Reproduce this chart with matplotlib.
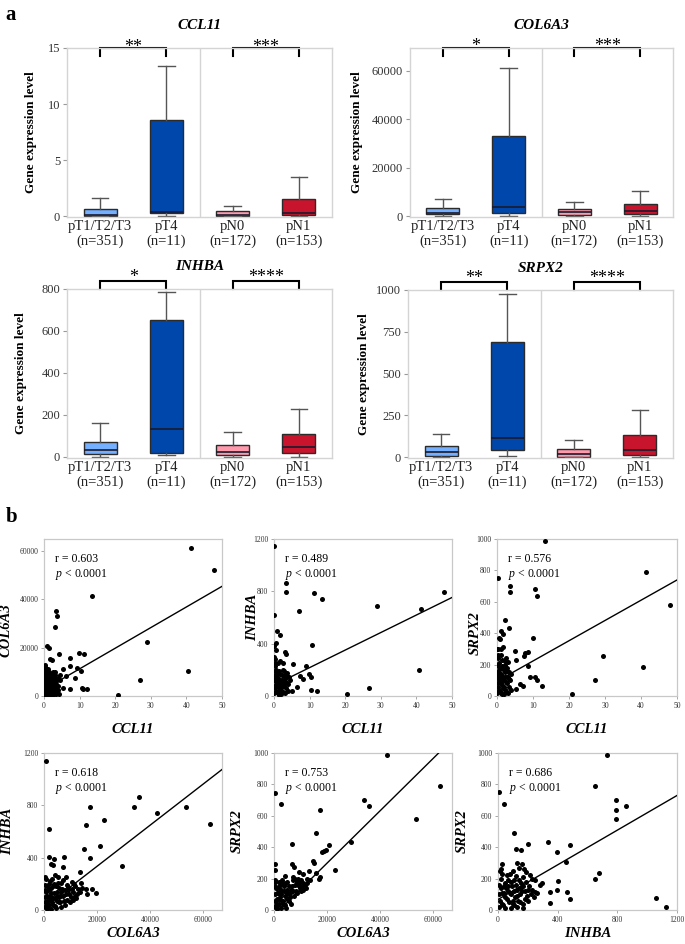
import numpy as np
import matplotlib
matplotlib.use('Agg')
import matplotlib.pyplot as plt
import matplotlib.transforms as mtransforms

plt.rcParams['font.family'] = 'Liberation Serif'
plt.rcParams['mathtext.fontset'] = 'custom'
plt.rcParams['mathtext.rm'] = 'Liberation Serif'
plt.rcParams['mathtext.it'] = 'Liberation Serif:italic'

# ---- panel a: box plots (whisker low, Q1, median, Q3, whisker high) ----
groups = ['pT1/T2/T3', 'pT4', 'pN0', 'pN1']
group_n = ['(n=351)', '(n=11)', '(n=172)', '(n=153)']
box_colors = ['#74b0ff', '#0047ab', '#ff9aad', '#c8152d']

ccl11_box = [[0.0, 0.02, 0.1, 0.65, 1.6], [0.05, 0.3, 0.38, 8.6, 13.4],
             [0.0, 0.02, 0.15, 0.45, 0.9], [0.0, 0.1, 0.35, 1.55, 3.55]]
col6a3_box = [[0, 800, 1500, 3300, 7000], [0, 1300, 3700, 33200, 61000],
              [0, 700, 1600, 2800, 5800], [0, 1000, 2000, 5000, 10500]]
inhba_box = [[0, 15, 32, 72, 160], [10, 17, 132, 652, 785],
             [2, 8, 22, 57, 120], [0, 20, 47, 110, 228]]
srpx2_box = [[0, 5, 28, 65, 140], [5, 40, 112, 690, 978],
             [0, 3, 18, 48, 100], [0, 15, 40, 130, 285]]
stars_T = ['**', '*', '*', '**']
stars_N = ['***', '***', '****', '****']

# ---- panel b: scatter points (x, y) ----
pts_ccl11_col6a3 = [
    (41.3, 61400), (47.7, 52200), (13.5, 41600), (3.5, 35300), (3.7, 33300), (3.0, 28400),
    (29.0, 22300), (0.9, 20800), (1.4, 19700), (9.8, 17800), (11.3, 17300), (4.1, 17200),
    (1.8, 15200), (2.2, 15000), (7.2, 15600), (7.2, 12400), (0.3, 13000), (9.3, 11400),
    (10.3, 10500), (5.4, 11300), (40.4, 10500), (27.0, 6800), (6.3, 8200), (8.6, 7500),
    (3.8, 7600), (5.2, 3200), (7.2, 3000), (10.6, 3500), (10.9, 2800), (12.1, 2700),
    (20.7, 500), (4.5, 6500), (2.6, 10000), (3.2, 9800), (2.0, 9000), (1.0, 9500),
    (0.1, 500), (0.2, 1500), (0.3, 3000), (0.5, 4500), (0.2, 6000), (0.1, 8000),
    (0.6, 1000), (0.8, 2500), (1.0, 4000), (1.2, 6000), (1.5, 2000), (1.8, 3500),
    (2.0, 5500), (2.3, 1000), (2.6, 3000), (2.9, 4500), (3.2, 2000), (3.5, 5000),
    (0.4, 200), (1.3, 300), (0.9, 7500), (1.6, 8000), (2.5, 7000), (0.05, 10500),
    (0.15, 12000), (3.0, 8500), (4.0, 4000), (0.7, 11000), (1.1, 1200), (2.1, 2800),
    (0.3, 2000), (2.8, 1500), (1.7, 6500), (0.6, 7000), (3.3, 800),
    (0.1, 2500), (0.4, 3800), (0.7, 5200), (0.2, 7200), (0.5, 8800), (0.9, 600),
    (1.1, 2800), (1.4, 4700), (1.6, 3000), (1.9, 1200), (2.2, 4000), (2.4, 6200),
    (2.7, 5200), (3.0, 3600), (3.4, 2900), (3.7, 1400), (1.3, 9800), (0.3, 9500),
    (2.9, 7800), (0.8, 5800), (1.9, 7200), (3.6, 6800), (0.5, 300), (1.7, 200),
    (2.6, 500), (3.9, 2300), (4.3, 1000), (0.2, 11500), (1.2, 11000), (4.6, 8500)]
pts_ccl11_inhba = [
    (0.0, 1150), (0.0, 620), (3.5, 860), (3.5, 795), (11.1, 790), (13.4, 740), (7.0, 650),
    (29.0, 690), (41.3, 665), (47.7, 795), (10.7, 390), (0.8, 495), (1.8, 470), (0.5, 405),
    (0.7, 355), (3.0, 335), (3.5, 320), (5.2, 244), (8.9, 231), (1.6, 264), (2.5, 251),
    (7.2, 156), (8.2, 131), (9.9, 167), (10.5, 149), (40.6, 195), (6.6, 67), (5.1, 38),
    (10.5, 46), (12.1, 41), (20.6, 13), (26.8, 59), (4.2, 149), (3.7, 179), (0.2, 280),
    (0.3, 250), (0.1, 20), (0.3, 60), (0.5, 110), (0.2, 160), (0.8, 30), (1.0, 80),
    (1.2, 140), (1.5, 190), (1.7, 50), (2.0, 100), (2.2, 160), (2.5, 30), (2.8, 80),
    (3.0, 130), (3.3, 60), (3.6, 100), (0.6, 200), (1.3, 10), (2.4, 200), (0.1, 120),
    (0.4, 230), (1.9, 15), (3.1, 20), (4.0, 90), (1.1, 250), (0.9, 170), (2.7, 150),
    (0.2, 80), (0.4, 140), (0.6, 40), (0.9, 110), (1.1, 180), (1.4, 70), (1.6, 120),
    (1.8, 170), (2.1, 40), (2.3, 120), (2.6, 90), (2.9, 190), (3.2, 110), (3.4, 160),
    (3.8, 40), (0.3, 190), (1.0, 20), (2.0, 60), (0.7, 140), (1.5, 100), (4.4, 120),
    (0.05, 300), (0.1, 240), (0.05, 380)]
pts_ccl11_srpx2 = [
    (13.3, 985), (0.3, 750), (3.5, 700), (3.5, 662), (10.5, 680), (11.2, 637), (41.5, 790),
    (48.0, 577), (2.1, 487), (1.1, 412), (1.7, 397), (3.3, 434), (0.5, 370), (0.8, 360),
    (10.0, 370), (4.9, 284), (29.4, 252), (7.9, 273), (7.5, 256), (8.7, 278), (5.4, 231),
    (8.7, 192), (9.2, 124), (10.5, 124), (11.0, 103), (6.5, 75), (7.3, 64), (12.4, 66),
    (5.4, 43), (27.1, 103), (40.6, 182), (20.8, 11), (1.2, 300), (0.3, 300), (1.8, 310),
    (0.2, 260), (2.6, 240), (3.0, 215), (2.3, 200), (0.1, 20), (0.3, 60), (0.5, 110),
    (0.2, 160), (0.8, 30), (1.0, 80), (1.2, 140), (1.5, 190), (1.7, 50), (2.0, 100),
    (2.2, 150), (2.5, 30), (2.8, 80), (3.0, 120), (3.3, 60), (3.6, 100), (0.6, 210),
    (1.3, 10), (0.1, 120), (0.4, 240), (1.9, 15), (3.1, 20), (4.0, 140), (0.9, 170),
    (2.7, 160), (1.4, 230),
    (0.2, 80), (0.4, 140), (0.6, 40), (0.9, 110), (1.1, 180), (1.4, 70), (1.6, 120),
    (1.8, 170), (2.1, 40), (2.3, 120), (2.6, 90), (2.9, 180), (3.2, 110), (3.4, 150),
    (3.8, 40), (0.3, 190), (1.0, 20), (2.0, 60), (0.7, 140), (1.5, 100), (0.1, 300),
    (0.05, 200), (2.2, 220), (1.0, 260)]
pts_col6a3_inhba = [
    (630, 1136), (1900, 618), (1900, 408), (2500, 352), (3200, 345), (3650, 388),
    (7560, 408), (7200, 327), (17500, 791), (15750, 651), (22700, 689), (15100, 465),
    (21000, 490), (17500, 401), (29200, 337), (34000, 791), (35900, 860), (42700, 745),
    (53500, 791), (62600, 659), (13500, 294), (15750, 161), (18100, 158), (19400, 128),
    (16000, 120), (12000, 89), (14100, 209), (10500, 217), (9100, 179), (4000, 268),
    (5300, 255), (6550, 204), (8450, 255), (300, 20), (800, 60), (1200, 110), (500, 150),
    (1500, 30), (2200, 80), (2800, 130), (3200, 180), (3500, 40), (4200, 90), (4800, 140),
    (5500, 60), (6000, 110), (6800, 160), (7500, 70), (8200, 120), (9000, 150),
    (10000, 100), (11000, 140), (400, 190), (1800, 200), (2500, 10), (4500, 15),
    (6500, 20), (200, 100), (900, 240), (1000, 5), (3000, 240), (5200, 210), (7000, 230),
    (8000, 40), (11500, 180), (12500, 120), (600, 140), (2000, 160),
    (700, 30), (1300, 70), (1900, 40), (2400, 110), (2900, 60), (3700, 130), (4100, 30),
    (4900, 70), (5800, 100), (6300, 140), (7100, 110), (7800, 150), (8600, 80),
    (9400, 120), (10500, 160), (1600, 150), (2100, 220), (3600, 200), (4400, 180),
    (5700, 170), (6200, 60), (8800, 190), (9800, 60), (10800, 80), (11800, 110),
    (300, 250), (1100, 180), (2600, 170), (400, 60), (1800, 100), (3300, 90), (5000, 110),
    (12800, 160), (13500, 140), (14200, 170), (11200, 200)]
pts_col6a3_srpx2 = [
    (42500, 989), (250, 745), (2800, 677), (62600, 787), (33900, 702), (35900, 660),
    (53400, 579), (17500, 638), (15750, 489), (6900, 419), (20800, 415), (17900, 372),
    (18700, 375), (19500, 383), (28800, 436), (250, 291), (250, 255), (14500, 315),
    (15000, 302), (6800, 294), (7400, 277), (22900, 255), (15700, 234), (17300, 213),
    (16900, 198), (9500, 240), (11000, 230), (12500, 200), (10000, 190), (4000, 215),
    (3000, 190), (5000, 180), (8000, 200), (13000, 250), (300, 20), (800, 60), (1200, 110),
    (500, 150), (1500, 30), (2200, 80), (2800, 130), (3200, 170), (3500, 40), (4200, 90),
    (4800, 130), (5500, 60), (6000, 110), (6800, 150), (7500, 90), (8200, 120),
    (9000, 160), (10000, 120), (11000, 130), (400, 190), (1800, 180), (2500, 10),
    (4500, 15), (6500, 40), (200, 100), (1000, 5), (12000, 140), (600, 140), (2000, 140),
    (7000, 190),
    (700, 30), (1300, 70), (1900, 40), (2400, 110), (2900, 60), (3700, 120), (4100, 30),
    (4900, 70), (5800, 100), (6300, 130), (7100, 120), (7800, 160), (8600, 110),
    (9400, 170), (10500, 150), (1600, 110), (2100, 160), (3600, 150), (4400, 170),
    (5700, 150), (6200, 80), (8800, 180), (9800, 140), (10800, 170), (11800, 160),
    (300, 180), (1100, 140), (2600, 100), (400, 60), (1800, 70), (3300, 60), (5000, 110),
    (12500, 170), (13500, 190), (9000, 200), (7200, 210)]
pts_inhba_srpx2 = [
    (734, 989), (9, 749), (38, 677), (652, 787), (788, 702), (788, 638), (790, 581),
    (855, 664), (106, 489), (201, 419), (124, 387), (151, 379), (332, 436), (483, 415),
    (395, 372), (456, 308), (648, 196), (677, 234), (27, 294), (129, 302), (1061, 79),
    (1126, 17), (404, 187), (395, 128), (463, 117), (483, 68), (350, 117), (348, 47),
    (246, 117), (282, 160), (298, 170), (219, 101), (241, 85), (160, 290), (175, 260),
    (140, 270), (190, 240), (215, 225), (230, 200), (120, 215), (165, 210), (5, 20),
    (15, 60), (25, 110), (10, 160), (35, 30), (45, 80), (55, 140), (65, 190), (75, 50),
    (85, 100), (95, 150), (105, 30), (115, 80), (125, 130), (135, 60), (145, 100),
    (155, 170), (165, 40), (180, 120), (195, 90), (20, 200), (50, 10), (90, 15), (130, 20),
    (170, 10), (60, 220), (110, 190), (40, 150), (70, 120), (100, 60), (150, 140), (200, 60),
    (8, 100), (18, 140), (28, 40), (38, 110), (48, 170), (58, 70), (68, 150), (78, 110),
    (88, 180), (98, 40), (108, 120), (118, 160), (128, 90), (138, 190), (148, 50),
    (158, 120), (168, 150), (178, 70), (188, 180), (198, 130), (30, 230), (80, 230),
    (12, 250), (22, 260), (100, 250), (210, 150), (230, 130), (260, 110), (250, 190)]

# regression lines: (slope, intercept)
fit_lines = [(854, 2700), (13.4, 83), (12.9, 94), (0.01573, 20), (0.0167, -35), (0.552, 67)]
r_values = ['0.603', '0.489', '0.576', '0.618', '0.753', '0.686']

fig = plt.figure(figsize=(6.85, 9.44), dpi=100)
W, H = 685, 944


def ax_px(left, top, right, bottom):
    return fig.add_axes([left / W, 1 - bottom / H, (right - left) / W, (bottom - top) / H])


def box_panel(ax, gene, data, ylim, yticks, sT, sN, br_top, br_bot, star_y, ylab_x):
    stats = [dict(whislo=d[0], q1=d[1], med=d[2], q3=d[3], whishi=d[4]) for d in data]
    res = ax.bxp(stats, positions=[1, 2, 3, 4], widths=0.5, patch_artist=True,
                 showfliers=False,
                 boxprops=dict(edgecolor='#2b2b2b', linewidth=1.0),
                 whiskerprops=dict(color='#555555', linewidth=1.0),
                 capprops=dict(color='#555555', linewidth=1.0),
                 medianprops=dict(color='#1a1a2e', linewidth=1.2))
    for patch, c in zip(res['boxes'], box_colors):
        patch.set_facecolor(c)
    ax.axvline(2.5, color='#d4d4d4', lw=1.0, zorder=0)
    ax.set_xlim(0.5, 4.5)
    ax.set_ylim(*ylim)
    ax.set_yticks(yticks)
    ax.set_xticks([1, 2, 3, 4])
    ax.set_xticklabels([g + '\n' + n for g, n in zip(groups, group_n)], fontsize=10.5)
    ax.tick_params(axis='x', length=0, pad=2, colors='#222222')
    ax.tick_params(axis='y', length=3, width=0.8, color='#999999', labelsize=9,
                   labelcolor='#333333', pad=2)
    for sp in ax.spines.values():
        sp.set_color('#d4d4d4')
        sp.set_linewidth(1.0)
    ax.set_ylabel('Gene expression level', fontsize=9.5, fontweight='bold')
    ax.yaxis.set_label_coords(ylab_x, 0.5)
    ax.text(0.5, 1.11, gene, transform=ax.transAxes, ha='center', va='baseline',
            fontsize=11, fontweight='bold', fontstyle='italic')
    tr = mtransforms.blended_transform_factory(ax.transData, ax.transAxes)
    for (a, b), s in (((1, 2), sT), ((3, 4), sN)):
        ax.plot([a, a, b, b], [br_bot, br_top, br_top, br_bot], color='black', lw=1.5,
                transform=tr, clip_on=False, solid_joinstyle='miter')
        ax.text((a + b) / 2, star_y, s, transform=tr, ha='center', va='baseline',
                fontsize=13)


ax1 = ax_px(67, 48, 332, 217)
box_panel(ax1, 'CCL11', ccl11_box, (-0.05, 15), [0, 5, 10, 15], stars_T[0], stars_N[0],
          1.0, 0.953, 0.979, -0.113)
ax2 = ax_px(410, 48, 673, 217)
box_panel(ax2, 'COL6A3', col6a3_box, (-300, 69400), [0, 20000, 40000, 60000],
          stars_T[1], stars_N[1], 1.0, 0.953, 0.985, -0.18)
ax3 = ax_px(67, 289, 332, 458)
box_panel(ax3, 'INHBA', inhba_box, (-5, 800), [0, 200, 400, 600, 800], stars_T[2],
          stars_N[2], 1.047, 1.0, 1.041, -0.15)
ax4 = ax_px(408, 290, 673, 458)
box_panel(ax4, 'SRPX2', srpx2_box, (-5, 1000), [0, 250, 500, 750, 1000], stars_T[3],
          stars_N[3], 1.048, 1.0, 1.039, -0.143)


def scatter_panel(ax, pts, fit, r, xlim, xticks, ylim, yticks, xname, yname,
                  ylab_xy, xlab_y):
    xs = [p[0] for p in pts]
    ys = [p[1] for p in pts]
    ax.scatter(xs, ys, s=13, color='black', linewidths=0, zorder=3)
    xx = np.array(xlim, dtype=float)
    ax.plot(xx, fit[0] * xx + fit[1], color='black', lw=1.0, zorder=4)
    ax.set_xlim(*xlim)
    ax.set_ylim(*ylim)
    ax.set_xticks(xticks)
    ax.set_yticks(yticks)
    ax.tick_params(length=2, width=0.6, color='#999999', labelsize=5.5,
                   labelcolor='#333333', pad=2)
    for sp in ax.spines.values():
        sp.set_color('#c8c8c8')
        sp.set_linewidth(0.9)
    ax.set_xlabel(xname, fontsize=10.5, fontweight='bold', fontstyle='italic')
    ax.set_ylabel(yname, fontsize=10.5, fontweight='bold', fontstyle='italic')
    ax.xaxis.set_label_coords(0.5, xlab_y)
    ax.yaxis.set_label_coords(*ylab_xy)
    ax.text(0.06, 0.87, 'r = ' + r, transform=ax.transAxes, ha='left', va='center',
            fontsize=8.5)
    ax.text(0.06, 0.775, '$p$ < 0.0001', transform=ax.transAxes, ha='left', va='center',
            fontsize=8.5)


ccl_ticks = [0, 10, 20, 30, 40, 50]
col_ticks = [0, 20000, 40000, 60000]
s1 = ax_px(44, 539, 222, 696)
scatter_panel(s1, pts_ccl11_col6a3, fit_lines[0], r_values[0], (0, 50), ccl_ticks,
              (0, 65000), [0, 20000, 40000, 60000], 'CCL11', 'COL6A3', (-0.175, 0.42), -0.172)
s2 = ax_px(274, 539, 452, 696)
scatter_panel(s2, pts_ccl11_inhba, fit_lines[1], r_values[1], (0, 50), ccl_ticks,
              (0, 1200), [0, 400, 800, 1200], 'CCL11', 'INHBA', (-0.085, 0.5), -0.172)
s3 = ax_px(497, 539, 677, 696)
scatter_panel(s3, pts_ccl11_srpx2, fit_lines[2], r_values[2], (0, 50), ccl_ticks,
              (0, 1000), [0, 200, 400, 600, 800, 1000], 'CCL11', 'SRPX2', (-0.085, 0.4), -0.172)
s4 = ax_px(44, 753, 222, 910)
scatter_panel(s4, pts_col6a3_inhba, fit_lines[3], r_values[3], (0, 67000), col_ticks,
              (0, 1200), [0, 400, 800, 1200], 'COL6A3', 'INHBA', (-0.17, 0.5), -0.111)
s5 = ax_px(274, 753, 452, 910)
scatter_panel(s5, pts_col6a3_srpx2, fit_lines[4], r_values[4], (0, 67000), col_ticks,
              (0, 1000), [0, 200, 400, 600, 800, 1000], 'COL6A3', 'SRPX2', (-0.17, 0.5), -0.111)
s6 = ax_px(498, 753, 677, 910)
scatter_panel(s6, pts_inhba_srpx2, fit_lines[5], r_values[5], (0, 1200), [0, 400, 800, 1200],
              (0, 1000), [0, 200, 400, 600, 800, 1000], 'INHBA', 'SRPX2', (-0.165, 0.5), -0.111)

fig.text(0.008, 1 - 15 / H, 'a', fontsize=15, fontweight='bold', va='center')
fig.text(0.008, 1 - 517 / H, 'b', fontsize=15, fontweight='bold', va='center')

fig.savefig('out.png', dpi=100)
